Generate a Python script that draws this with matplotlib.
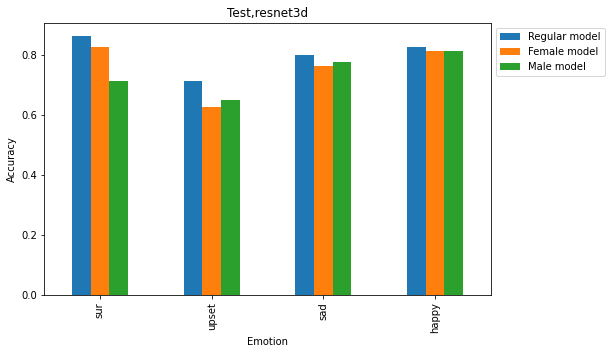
import numpy as np
import matplotlib.pyplot as plt

emotions = ['sur', 'upset', 'sad', 'happy']
regular = [0.864, 0.713, 0.800, 0.827]
female = [0.828, 0.627, 0.763, 0.813]
male = [0.713, 0.650, 0.777, 0.813]

series = [('Regular model', regular, '#1f77b4'),
          ('Female model', female, '#ff7f0e'),
          ('Male model', male, '#2ca02c')]

fig = plt.figure(figsize=(613/72, 354/72), dpi=72)
ax = fig.add_axes([44/613, 1 - 295/354, (491-44)/613, (295-23)/354])

x = np.arange(len(emotions))
w = 0.5 / 3
for i, (name, vals, col) in enumerate(series):
    ax.bar(x + (i - 1) * w, vals, width=w, color=col, label=name)

ax.set_xlim(-0.5, len(emotions) - 0.5)
ax.set_ylim(0, max(regular) * 1.05)
ax.set_xticks(x)
ax.set_xticklabels(emotions, rotation=90)
ax.set_yticks([0.0, 0.2, 0.4, 0.6, 0.8])
ax.set_xlabel('Emotion')
ax.set_ylabel('Accuracy')
ax.set_title('Test,resnet3d')
ax.legend(loc='upper left', bbox_to_anchor=(1.0, 1.0))

fig.savefig('out.png', dpi=72)
